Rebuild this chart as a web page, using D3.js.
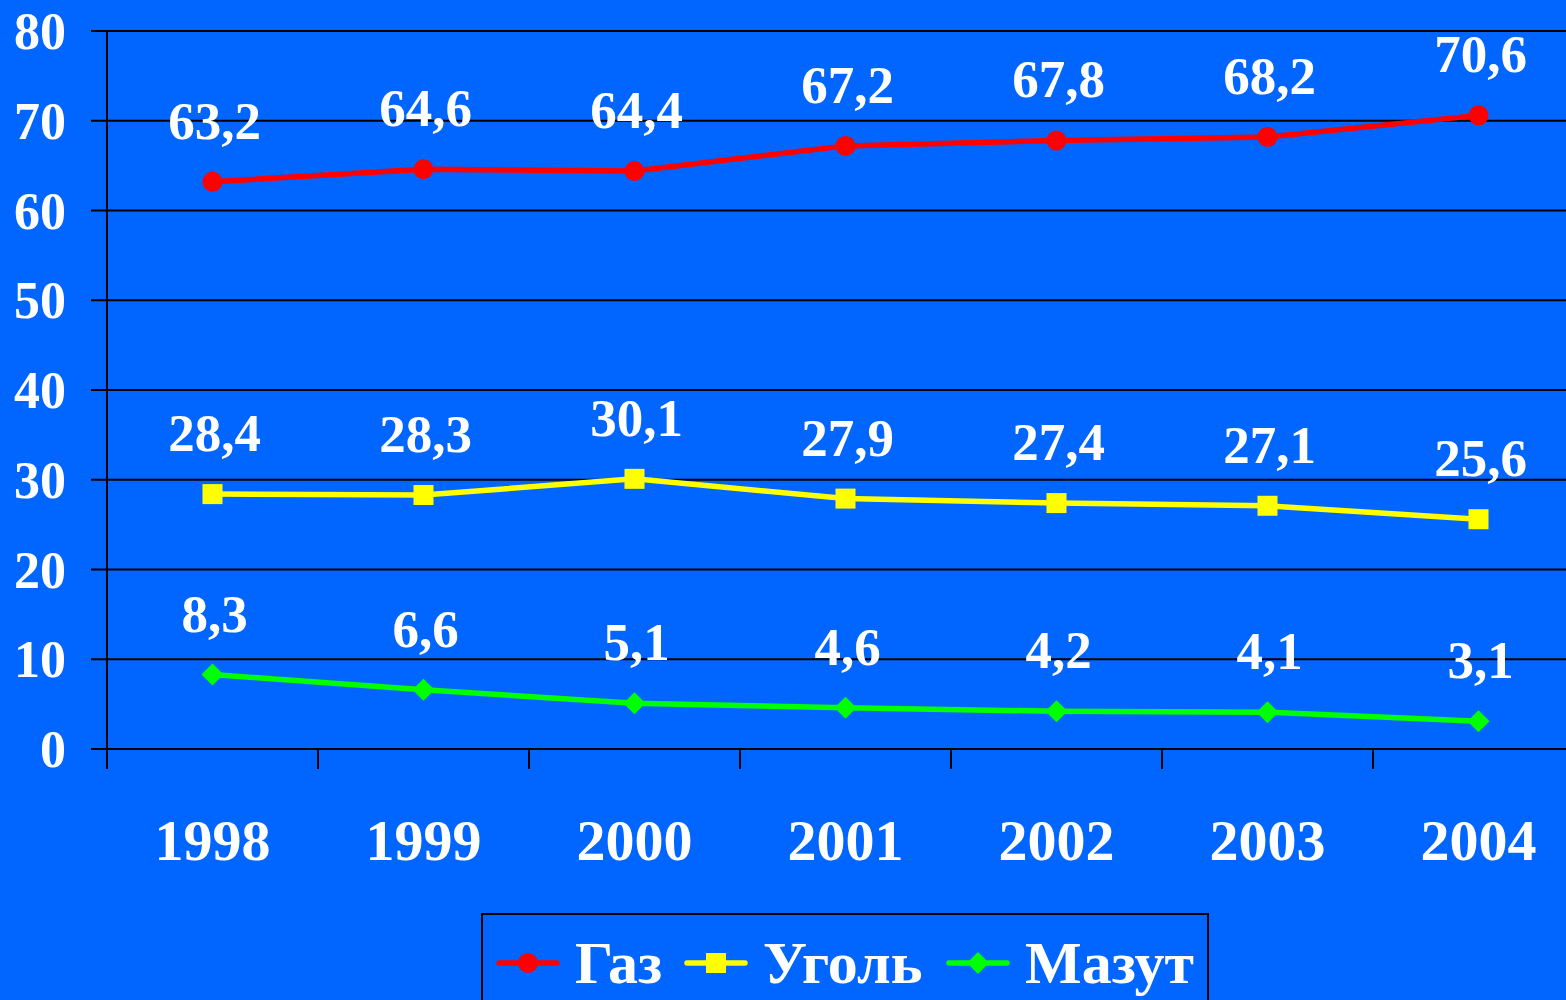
<!DOCTYPE html>
<html>
<head>
<meta charset="utf-8">
<script src="https://cdn.jsdelivr.net/npm/d3@7"></script>
<style>
  html, body { margin: 0; padding: 0; background: #0066FF; overflow: hidden; }
  svg { display: block; }
  text { font-family: "Liberation Serif", "Times New Roman", serif; font-weight: bold; fill: #fff; }
</style>
</head>
<body>
<svg id="chart"></svg>
<script>
var years = ["1998", "1999", "2000", "2001", "2002", "2003", "2004"];
var gas = [63.2, 64.6, 64.4, 67.2, 67.8, 68.2, 70.6];
var coal = [28.4, 28.3, 30.1, 27.9, 27.4, 27.1, 25.6];
var fuelOil = [8.3, 6.6, 5.1, 4.6, 4.2, 4.1, 3.1];
var yTicks = [0, 10, 20, 30, 40, 50, 60, 70, 80];

var series = [
  { name: "Газ", values: gas, color: "#FF0000", marker: "circle" },
  { name: "Уголь", values: coal, color: "#FFFF00", marker: "square" },
  { name: "Мазут", values: fuelOil, color: "#00FF00", marker: "diamond" }
];

var width = 1566, height = 1000;
var plotLeft = 107, plotRight = 1584, plotTop = 31, plotBottom = 749;

var svg = d3.select("#chart").attr("width", width).attr("height", height);

var x = d3.scaleBand().domain(years).range([plotLeft, plotRight]).padding(0);
var y = d3.scaleLinear().domain([0, 80]).range([plotBottom, plotTop]);

function fmt(v) { return v.toFixed(1).replace(".", ","); }

// gridlines
svg.append("g").selectAll("line").data(yTicks).enter().append("line")
  .attr("x1", plotLeft - 16).attr("x2", plotRight)
  .attr("y1", function(d){ return y(d); }).attr("y2", function(d){ return y(d); })
  .attr("stroke", "#000").attr("stroke-width", 2);

// left axis line
svg.append("line").attr("x1", plotLeft).attr("x2", plotLeft).attr("y1", plotTop).attr("y2", plotBottom + 20)
  .attr("stroke", "#000").attr("stroke-width", 2);

// bottom tick marks at category boundaries
svg.append("g").selectAll("line").data(years).enter().append("line")
  .attr("x1", function(d){ return x(d); }).attr("x2", function(d){ return x(d); })
  .attr("y1", plotBottom).attr("y2", plotBottom + 20)
  .attr("stroke", "#000").attr("stroke-width", 2);

// y tick labels
svg.append("g").selectAll("text").data(yTicks).enter().append("text")
  .attr("x", 66).attr("y", function(d){ return y(d); })
  .attr("dy", "0.35em").attr("text-anchor", "end")
  .style("font-size", "52px").text(function(d){ return d; });

// x labels
svg.append("g").selectAll("text").data(years).enter().append("text")
  .attr("x", function(d){ return x(d) + x.bandwidth() / 2; }).attr("y", 860)
  .attr("text-anchor", "middle").style("font-size", "58px").text(function(d){ return d; });

var line = d3.line()
  .x(function(d, i){ return x(years[i]) + x.bandwidth() / 2; })
  .y(function(d){ return y(d); });

function drawMarker(g, type, color, cx, cy) {
  if (type === "circle") {
    g.append("circle").attr("cx", cx).attr("cy", cy).attr("r", 10).attr("fill", color);
  } else if (type === "square") {
    g.append("rect").attr("x", cx - 10).attr("y", cy - 10).attr("width", 20).attr("height", 20).attr("fill", color);
  } else {
    g.append("path").attr("d", "M" + cx + "," + (cy - 11) + "L" + (cx + 11) + "," + cy + "L" + cx + "," + (cy + 11) + "L" + (cx - 11) + "," + cy + "Z")
      .attr("fill", color);
  }
}

series.forEach(function(s) {
  var g = svg.append("g");
  g.append("path").datum(s.values).attr("d", line)
    .attr("fill", "none").attr("stroke", s.color).attr("stroke-width", 5.5);
  s.values.forEach(function(v, i) {
    var cx = x(years[i]) + x.bandwidth() / 2, cy = y(v);
    drawMarker(g, s.marker, s.color, cx, cy);
    g.append("text").attr("x", cx + 2).attr("y", cy - 43)
      .attr("text-anchor", "middle").style("font-size", "53px").text(fmt(v));
  });
});

// legend
var legend = svg.append("g");
legend.append("rect").attr("x", 482).attr("y", 914).attr("width", 726).attr("height", 110)
  .attr("fill", "none").attr("stroke", "#000").attr("stroke-width", 2);
var legendX = [528, 716, 978];
series.forEach(function(s, i) {
  var cx = legendX[i], cy = 963;
  legend.append("line").attr("x1", cx - 29).attr("x2", cx + 29).attr("y1", cy).attr("y2", cy)
    .attr("stroke", s.color).attr("stroke-width", 5.5).attr("stroke-linecap", "round");
  drawMarker(legend, s.marker, s.color, cx, cy);
  legend.append("text").attr("x", cx + 47).attr("y", 983).style("font-size", "60px").text(s.name);
});
</script>
</body>
</html>
